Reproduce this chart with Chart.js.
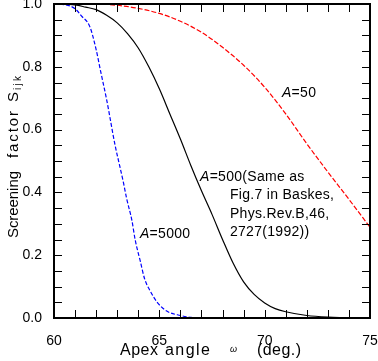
<!DOCTYPE html>
<html>
<head>
<meta charset="utf-8">
<script src="https://cdn.jsdelivr.net/npm/chart.js@4/dist/chart.umd.min.js"></script>
<style>
  body { margin: 0; background: #fff; }
  canvas { display: block; }
</style>
</head>
<body>
<canvas id="chart" width="378" height="361"></canvas>
<script>
// apex angle (deg.) and screening factor
const angles50 = [60, 62, 63, 64, 65, 66, 67, 68, 69, 70, 71, 72, 73, 74, 75];
const screen50 = [1.0, 1.0, 0.996, 0.986, 0.97, 0.945, 0.91, 0.862, 0.805, 0.735, 0.65, 0.555, 0.465, 0.378, 0.289];

const angles500 = [60, 61, 61.5, 62, 62.5, 63, 63.5, 64, 64.5, 65, 65.5, 66, 66.5, 67, 67.5, 68, 68.5, 69, 69.5, 70, 70.5, 71, 72, 73, 75];
const screen500 = [1.0, 0.997, 0.99, 0.982, 0.964, 0.94, 0.905, 0.86, 0.8, 0.73, 0.65, 0.57, 0.485, 0.405, 0.33, 0.25, 0.175, 0.115, 0.075, 0.048, 0.03, 0.02, 0.008, 0.003, 0.0];

const angles5000 = [60, 60.5, 61, 61.3, 61.7, 62, 62.2, 62.5, 62.9, 63.1, 63.3, 63.45, 63.7, 63.85, 64.1, 64.3, 64.55, 64.9, 65.35, 66, 66.5, 67];
const screen5000 = [1.0, 0.998, 0.985, 0.962, 0.928, 0.855, 0.79, 0.695, 0.55, 0.49, 0.43, 0.38, 0.31, 0.25, 0.18, 0.125, 0.088, 0.05, 0.022, 0.008, 0.002, 0.0];

const xTicks = [60, 65, 70, 75];
const yTicks = [0, 0.2, 0.4, 0.6, 0.8, 1.0];

const FONT = "'Liberation Sans', Arial, sans-serif";

function points(xs, ys) {
  return xs.map((v, i) => ({ x: v, y: ys[i] }));
}

// frame and inward tick marks on all four sides
const frame = {
  id: "frame",
  afterDraw(chart) {
    const c = chart.ctx, a = chart.chartArea;
    const sx = chart.scales.x, sy = chart.scales.y;
    const L = Math.round(a.left), R = Math.round(a.right);
    const T = Math.round(a.top), B = Math.round(a.bottom);
    c.save();
    c.strokeStyle = "#000";
    c.lineWidth = 1;
    c.beginPath();
    for (let v = 60; v <= 75; v++) {
      const px = Math.round(sx.getPixelForValue(v)) + 0.5;
      c.moveTo(px, B); c.lineTo(px, B - 8);
      c.moveTo(px, T); c.lineTo(px, T + 8);
    }
    for (let i = 0; i <= 20; i++) {
      const py = Math.round(sy.getPixelForValue(i * 0.05)) + 0.5;
      c.moveTo(L, py); c.lineTo(L + 8, py);
      c.moveTo(R, py); c.lineTo(R - 8, py);
    }
    c.stroke();
    c.lineWidth = 2;
    c.strokeRect(L, T, R - L, B - T);
    c.restore();
  }
};

// stretch a word to a given width with letter spacing
function fitText(c, text, px, py, width) {
  c.letterSpacing = "0px";
  const w = c.measureText(text).width;
  const sp = text.length > 1 ? (width - w) / (text.length - 1) : 0;
  c.letterSpacing = sp + "px";
  c.fillText(text, px, py);
  c.letterSpacing = "0px";
}

// labels with italic A
function labelA(c, text, px, py) {
  c.font = "italic 14px " + FONT;
  c.fillText("A", px, py);
  const w = c.measureText("A").width;
  c.font = "14px " + FONT;
  c.fillText(text, px + w, py);
}

const texts = {
  id: "texts",
  afterDraw(chart) {
    const c = chart.ctx;
    const sx = chart.scales.x, sy = chart.scales.y;
    c.save();
    c.fillStyle = "#000";
    c.textBaseline = "middle";
    c.textAlign = "left";
    c.letterSpacing = "0.3px";

    labelA(c, "=50", sx.getPixelForValue(70.82), sy.getPixelForValue(0.717));
    labelA(c, "=5000", sx.getPixelForValue(64.08), sy.getPixelForValue(0.268));

    const bx = sx.getPixelForValue(66.93), by = sy.getPixelForValue(0.449);
    labelA(c, "=500(Same as", bx, by);
    const lx = sx.getPixelForValue(68.35);
    c.font = "14px " + FONT;
    c.fillText("Fig.7 in Baskes,", lx, by + 18.5);
    c.fillText("Phys.Rev.B,46,", lx, by + 37);
    c.fillText("2727(1992))", lx, by + 55.5);

    // x axis title
    c.textBaseline = "alphabetic";
    c.font = "16px " + FONT;
    fitText(c, "Apex", 120, 355, 38);
    fitText(c, "angle", 165, 355, 45);
    c.font = "italic 9px " + FONT;
    c.fillText("\u03c9", 230, 352);
    c.font = "16px " + FONT;
    fitText(c, "(deg.)", 257, 355, 44);

    // y axis title
    c.translate(18, 0);
    c.rotate(-Math.PI / 2);
    c.font = "15px " + FONT;
    fitText(c, "Screening", -238, 0, 67);
    fitText(c, "factor", -158, 0, 47);
    fitText(c, "S", -102, 0, 11);
    c.font = "10px " + FONT;
    fitText(c, "ijk", -90, 3, 14);
    c.restore();
  }
};

const chart = new Chart(document.getElementById("chart"), {
  type: "line",
  data: {
    datasets: [
      {
        label: "A=50",
        data: points(angles50, screen50),
        borderColor: "#ff0000",
        borderWidth: 1.2,
        borderDash: [5, 2]
      },
      {
        label: "A=500",
        data: points(angles500, screen500),
        borderColor: "#000000",
        borderWidth: 1.2
      },
      {
        label: "A=5000",
        data: points(angles5000, screen5000),
        borderColor: "#0000ff",
        borderWidth: 1.2,
        borderDash: [4, 2]
      }
    ]
  },
  options: {
    responsive: false,
    animation: false,
    events: [],
    cubicInterpolationMode: "monotone",
    elements: { point: { radius: 0 } },
    layout: { padding: { top: 4, right: 8, left: 0, bottom: 0 } },
    plugins: { legend: { display: false }, tooltip: { enabled: false } },
    scales: {
      x: {
        type: "linear",
        min: 60,
        max: 75,
        afterFit(s) { s.height = 43; s.paddingLeft = 0; s.paddingRight = 0; },
        afterBuildTicks(s) { s.ticks = xTicks.map(v => ({ value: v })); },
        grid: { display: false },
        border: { display: false },
        ticks: {
          padding: 7,
          color: "#000",
          font: { family: FONT, size: 14 },
          maxRotation: 0,
          autoSkip: false
        }
      },
      y: {
        min: 0,
        max: 1,
        afterFit(s) { s.width = 54; s.paddingTop = 0; s.paddingBottom = 0; },
        afterBuildTicks(s) { s.ticks = yTicks.map(v => ({ value: v })); },
        grid: { display: false },
        border: { display: false },
        ticks: {
          padding: 4,
          color: "#000",
          font: { family: FONT, size: 14 },
          callback: v => v.toFixed(1)
        }
      }
    }
  },
  plugins: [frame, texts]
});
</script>
</body>
</html>
